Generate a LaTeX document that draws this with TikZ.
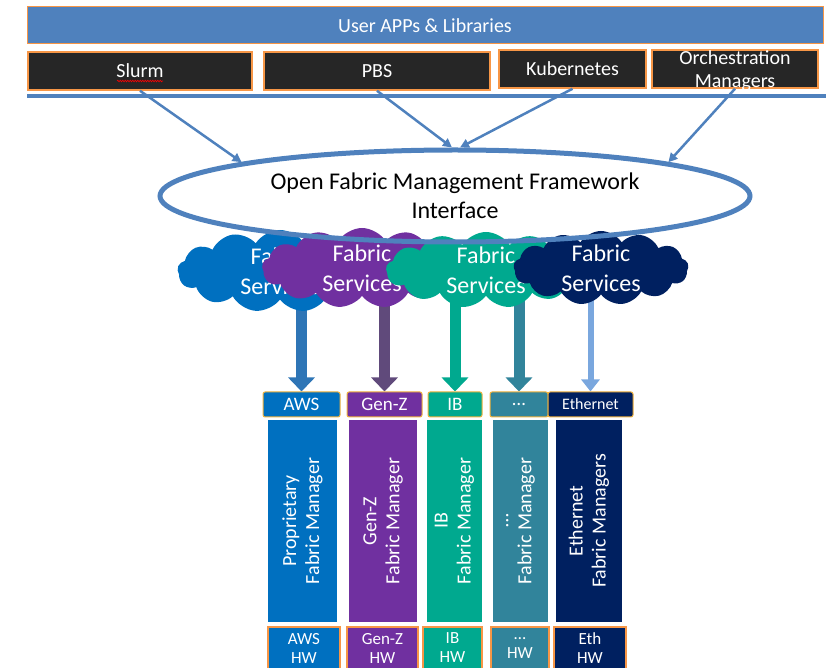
\documentclass[tikz,border=0pt]{standalone}
\usepackage{fontspec}
\setmainfont{Carlito}
\usetikzlibrary{shapes.symbols,shapes.geometric,arrows.meta,decorations.pathmorphing}
\pgfdeclarelayer{back}
\pgfsetlayers{back,main}
\definecolor{barblue}{HTML}{4F81BD}
\definecolor{boxorange}{HTML}{F79646}
\definecolor{darkbox}{HTML}{262626}
\definecolor{awsblue}{HTML}{0070C0}
\definecolor{genzpurple}{HTML}{7030A0}
\definecolor{ibgreen}{HTML}{00A98F}
\definecolor{dotsteal}{HTML}{31849B}
\definecolor{ethnavy}{HTML}{002060}
\definecolor{tagborder}{HTML}{F2B33D}
\definecolor{awsarrow}{HTML}{2E75B6}
\definecolor{genzarrow}{HTML}{604A7B}
\definecolor{etharrow}{HTML}{7AA7DE}
\begin{document}
\begin{tikzpicture}[x=1pt,y=-1pt,
  appbar/.style={rectangle, fill=barblue, draw=boxorange, line width=1pt, text=white, font=\fontsize{20}{23}\selectfont, minimum height=37, inner sep=0pt},
  toolbox/.style={rectangle, fill=darkbox, draw=boxorange, line width=1.5pt, text=white, font=\fontsize{20}{23}\selectfont, align=center, minimum height=38, inner sep=0pt},
  busline/.style={barblue, line width=4pt},
  link/.style={barblue, line width=2.5pt, -{Triangle[length=9pt,width=9pt]}},
  svccloud/.style={cloud, cloud puffs=13, cloud puff arc=115, cloud ignores aspect, inner sep=0pt, draw=none},
  svctext/.style={text=white, align=center, font=\fontsize{24}{30}\selectfont, inner sep=0pt},
  ofmf/.style={ellipse, draw=barblue, line width=5pt, minimum width=590, minimum height=92, inner sep=0pt, align=center, font=\fontsize{24}{29}\selectfont},
  fatarrow/.style={line width=11pt, -{Triangle[length=14pt,width=26pt]}},
  thinarrow/.style={line width=6pt, -{Triangle[length=12pt,width=18pt]}},
  tag/.style={rectangle, rounded corners=2pt, draw=tagborder, line width=1pt, text=white, font=\fontsize{19}{21}\selectfont, minimum height=25, inner sep=0pt},
  mgrcol/.style={rectangle, rotate=90, minimum width=202, text=white, align=center, font=\fontsize{20}{23}\selectfont, inner sep=0pt},
  hwbox/.style={rectangle, draw=boxorange, line width=2pt, text=white, align=center, font=\fontsize{17}{19}\selectfont, minimum height=42, inner sep=0pt}]
\useasboundingbox (0,0) rectangle (831,668);
\node [appbar, minimum width=796] (apps) at (425,25.5) {User APPs \& Libraries};
\node [toolbox, minimum width=224] (slurm) at (140,71) {Slurm};
\node [toolbox, minimum width=226] (pbs) at (377,71) {PBS};
\node [toolbox, minimum width=147] (kube) at (572.5,69) {Kubernetes};
\node [toolbox, minimum width=166, text depth=-2pt] (orch) at (735,69) {Orchestration\\Managers};
\draw [red, line width=0.6pt, decorate, decoration={snake, amplitude=0.8pt, segment length=2.5pt}] ([shift={(-23,10)}]slurm.center) -- ([shift={(23,10)}]slurm.center);
\coordinate (busW) at (27,96);
\coordinate (busE) at (826,96);
\draw [busline] (busW) -- (busE);
\node [svccloud, fill=awsblue, minimum width=205, minimum height=82, label={[svctext]center:Fabric\\Services}] (cloudAWS) at (280,271) {};
\node [svccloud, fill=genzpurple, minimum width=200, minimum height=80, label={[svctext]center:Fabric\\Services}] (cloudGenZ) at (362,268) {};
\node [svccloud, fill=ibgreen, minimum width=200, minimum height=76, label={[svctext]center:Fabric\\Services}] (cloudIB) at (486,270) {};
\node [svccloud, fill=ethnavy, minimum width=175, minimum height=74, label={[svctext]center:Fabric\\Services}] (cloudEth) at (601,268) {};
\node [ofmf] (ofmf) at (455,196) {Open Fabric Management Framework\\Interface};
\draw [link] (slurm.south) -- (ofmf.171);
\draw [link] (pbs.south) -- ([xshift=-3pt]ofmf.north);
\draw [link] (kube.south) -- ([xshift=5pt]ofmf.north);
\draw [link] (orch.south) -- (ofmf.9);
\node [tag, fill=awsblue, minimum width=77] (tagAWS) at (301.5,404.5) {AWS};
\node [tag, fill=genzpurple, minimum width=75] (tagGenZ) at (384.5,404.5) {Gen-Z};
\node [tag, fill=ibgreen, minimum width=54] (tagIB) at (455,404.5) {IB};
\node [tag, fill=dotsteal, minimum width=58] (tagDots) at (519,404.5) {\dots};
\node [tag, fill=ethnavy, minimum width=85, font=\fontsize{16}{19}\selectfont] (tagEth) at (590.5,404.5) {Ethernet};
\node [mgrcol, fill=awsblue, minimum height=69] (mgrAWS) at (302.5,521) {Proprietary\\Fabric Manager};
\node [mgrcol, fill=genzpurple, minimum height=68] (mgrGenZ) at (383,521) {Gen-Z\\Fabric Manager};
\node [mgrcol, fill=ibgreen, minimum height=55] (mgrIB) at (454.5,521) {IB\\Fabric Manager};
\node [mgrcol, fill=dotsteal, minimum height=55] (mgrDots) at (520.5,521) {\dots\\Fabric Manager};
\node [mgrcol, fill=ethnavy, minimum height=66] (mgrEth) at (589,521) {Ethernet\\Fabric Managers};
\node [hwbox, fill=awsblue, minimum width=72] (hwAWS) at (304,648) {AWS\\HW};
\node [hwbox, fill=genzpurple, minimum width=71] (hwGenZ) at (382.5,648) {Gen-Z\\HW};
\node [hwbox, fill=ibgreen, minimum width=59] (hwIB) at (452.5,648) {IB\\HW};
\node [hwbox, fill=dotsteal, minimum width=58] (hwDots) at (520,648) {\dots\\HW};
\node [hwbox, fill=ethnavy, minimum width=72] (hwEth) at (590,648) {Eth\\HW};
\begin{pgfonlayer}{back}
\draw [fatarrow, awsarrow] (tagAWS.north |- cloudAWS.center) -- (tagAWS.north);
\draw [fatarrow, genzarrow] (tagGenZ.north |- cloudGenZ.center) -- (tagGenZ.north);
\draw [fatarrow, ibgreen] (tagIB.north |- cloudIB.center) -- (tagIB.north);
\draw [fatarrow, dotsteal] (tagDots.north |- cloudIB.center) -- (tagDots.north);
\draw [thinarrow, etharrow] (tagEth.north |- cloudEth.center) -- (tagEth.north);
\end{pgfonlayer}
\end{tikzpicture}
\end{document}
